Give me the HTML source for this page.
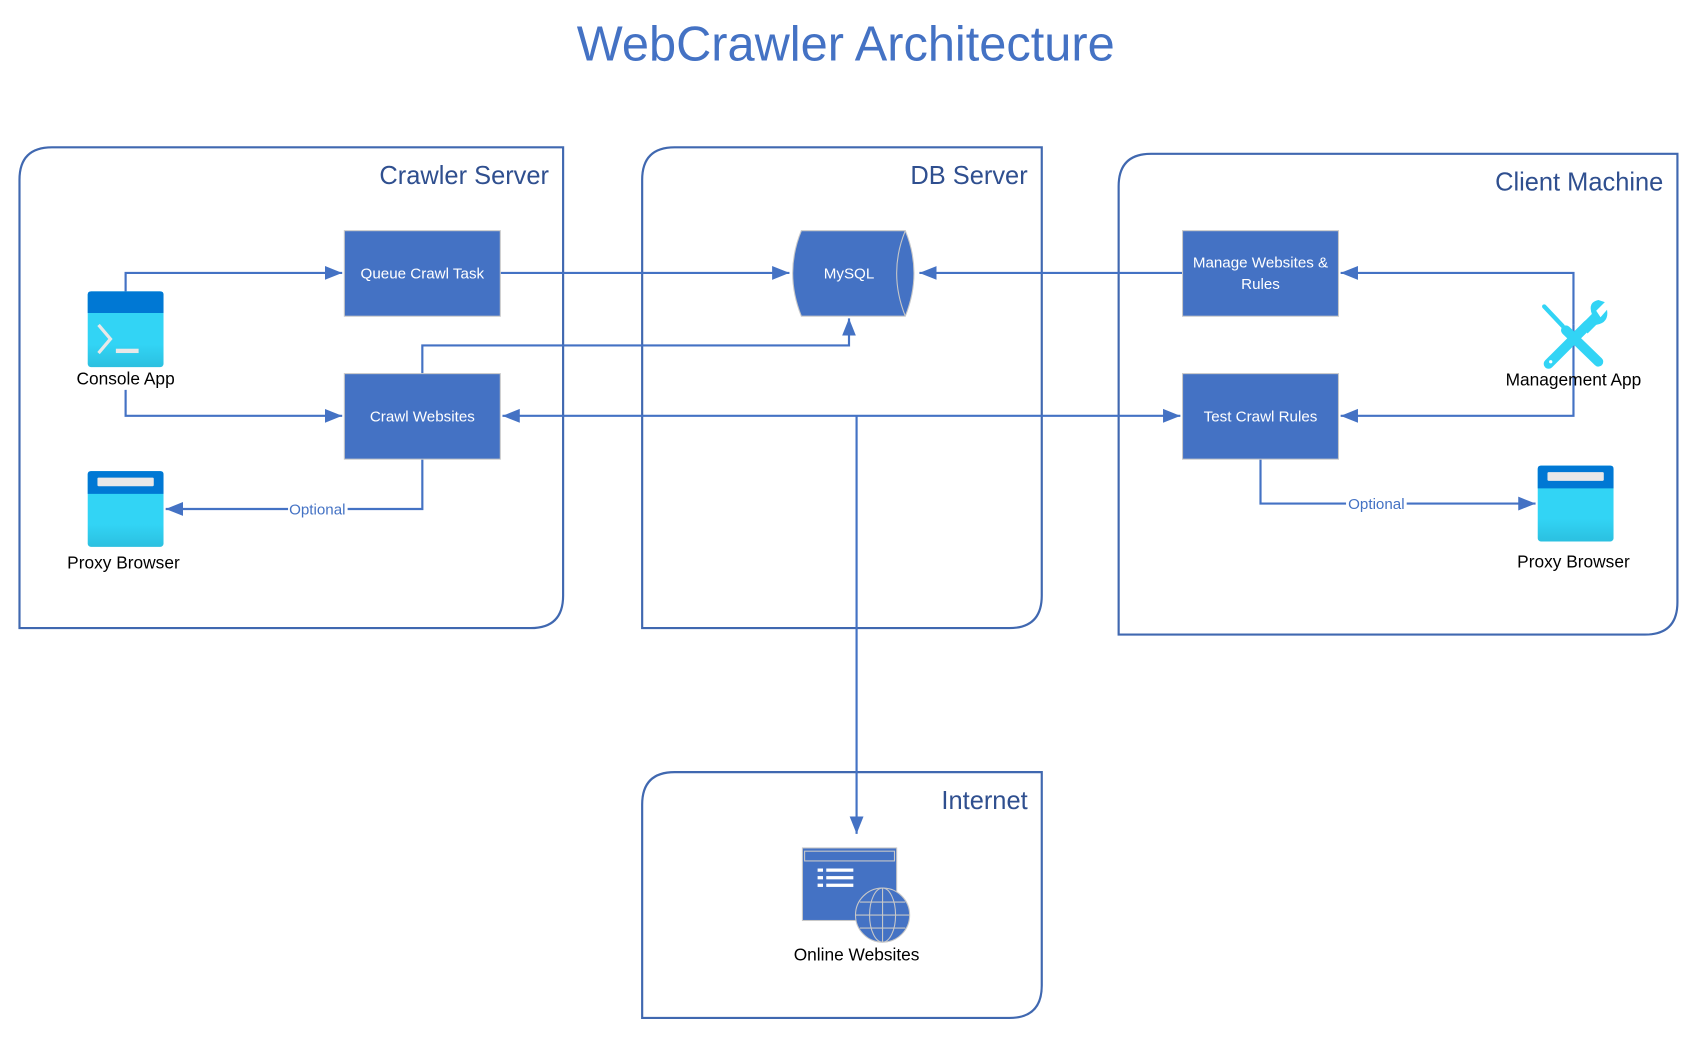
<!DOCTYPE html>
<html><head><meta charset="utf-8"><style>
html,body{margin:0;padding:0;background:#fff;}
svg{display:block;}
text{font-family:"Liberation Sans",sans-serif;}
</style></head><body>
<svg width="1698" height="1038" viewBox="0 0 1568 958.5" xmlns="http://www.w3.org/2000/svg">
<defs>
<marker id="b" viewBox="0 0 10 10" refX="10" refY="5" markerWidth="16" markerHeight="16" orient="auto-start-reverse" markerUnits="userSpaceOnUse">
<path d="M0,1 L10,5 L0,9 z" fill="#4472C4"/></marker>
<linearGradient id="g" x1="0" y1="0" x2="0" y2="1"><stop offset="0" stop-color="#32D4F5"/><stop offset="0.7" stop-color="#32D4F5"/><stop offset="1" stop-color="#2BC0E0"/></linearGradient>
</defs>
<text x="781" y="56" text-anchor="middle" font-size="45" fill="#4472C4">WebCrawler Architecture</text>

<g fill="none" stroke="#4068B0" stroke-width="2">
<path d="M18,580 V166 Q18,136 48,136 H520 V550 Q520,580 490,580 Z"/>
<path d="M593,580 V166 Q593,136 623,136 H962 V550 Q962,580 932,580 Z"/>
<path d="M1033,586 V172 Q1033,142 1063,142 H1549 V556 Q1549,586 1519,586 Z"/>
<path d="M593,940 V743 Q593,713 623,713 H962 V910 Q962,940 932,940 Z"/>
</g>
<g font-size="23.5" fill="#2F4F8F" text-anchor="end">
<text x="507" y="170">Crawler Server</text>
<text x="949" y="170">DB Server</text>
<text x="1536" y="176">Client Machine</text>
<text x="949" y="747">Internet</text>
</g>

<g fill="none" stroke="#4472C4" stroke-width="2">
<path d="M116,269 V252 H316" marker-end="url(#b)"/>
<path d="M462,252 H729" marker-end="url(#b)"/>
<path d="M1092,252 H849" marker-end="url(#b)"/>
<path d="M1453,300 V252 H1238" marker-end="url(#b)"/>
<path d="M1453,300 V384 H1238" marker-end="url(#b)"/>
<path d="M116,360 V384 H316" marker-end="url(#b)"/>
<path d="M390,345 V319 H784 V294" marker-end="url(#b)"/>
<path d="M464,384 H1090" marker-start="url(#b)" marker-end="url(#b)"/>
<path d="M791,384 V770" marker-end="url(#b)"/>
<path d="M390,424 V470 H153" marker-end="url(#b)"/>
<path d="M1164,424 V465 H1418" marker-end="url(#b)"/>
</g>
<rect x="266" y="462" width="55" height="16" fill="#fff"/>
<text x="293" y="475" text-anchor="middle" font-size="14" fill="#4472C4">Optional</text>
<rect x="1243" y="457" width="56" height="16" fill="#fff"/>
<text x="1271" y="470" text-anchor="middle" font-size="14" fill="#4472C4">Optional</text>

<g fill="#4472C4" stroke="#C8C8C8" stroke-width="1">
<rect x="318" y="213" width="144" height="79"/>
<rect x="318" y="345" width="144" height="79"/>
<rect x="1092" y="213" width="144" height="79"/>
<rect x="1092" y="345" width="144" height="79"/>
<path d="M740,213 H836 Q852,252 836,292 H740 Q724,252 740,213 Z"/>
</g>
<path d="M836,213 Q820,252 836,292" fill="none" stroke="#C8C8C8" stroke-width="1"/>
<g font-size="14" fill="#fff" text-anchor="middle">
<text x="390" y="257">Queue Crawl Task</text>
<text x="390" y="389">Crawl Websites</text>
<text x="1164" y="247">Manage Websites &amp;</text>
<text x="1164" y="267">Rules</text>
<text x="1164" y="389">Test Crawl Rules</text>
<text x="784" y="257">MySQL</text>
</g>

<rect x="81" y="269" width="70" height="70" rx="3" fill="url(#g)"/>
<path d="M81,272 Q81,269 84,269 H148 Q151,269 151,272 V289 H81 Z" fill="#0078D4"/>
<path d="M91,300 L102,313 L91,326" fill="none" stroke="#E8E8E8" stroke-width="3"/>
<rect x="107" y="322" width="21" height="4" fill="#E8E8E8"/>
<rect x="81" y="435" width="70" height="70" rx="3" fill="url(#g)"/>
<path d="M81,438 Q81,435 84,435 H148 Q151,435 151,438 V456 H81 Z" fill="#0078D4"/>
<rect x="90" y="441" width="52" height="8" rx="1" fill="#E8E8E8"/>
<rect x="1420" y="430" width="70" height="70" rx="3" fill="url(#g)"/>
<path d="M1420,433 Q1420,430 1423,430 H1487 Q1490,430 1490,433 V451 H1420 Z" fill="#0078D4"/>
<rect x="1429" y="436" width="52" height="8" rx="1" fill="#E8E8E8"/>

<g stroke="#32D4F5" stroke-linecap="round" fill="none">
<line x1="1426" y1="283" x2="1443" y2="301" stroke-width="4"/>
<line x1="1446" y1="305" x2="1476" y2="334" stroke-width="9"/>
<line x1="1430" y1="336" x2="1466" y2="300" stroke-width="9"/>
</g>
<path d="M1460,300 L1470,290 Q1466,279 1476,277 L1482,279 L1474,287 L1478,293 L1484,286 Q1486,298 1474,300 L1466,308 Z" fill="#32D4F5"/>
<circle cx="1432" cy="334" r="1.5" fill="#fff"/>
<text x="1453" y="356" text-anchor="middle" font-size="16" fill="#000">Management App</text>
<g font-size="16" fill="#000" text-anchor="middle">
<text x="116" y="355">Console App</text>
<text x="114" y="525">Proxy Browser</text>
<text x="1453" y="524">Proxy Browser</text>
<text x="791" y="887">Online Websites</text>
</g>
<rect x="741" y="783" width="87" height="67" fill="#4472C4" stroke="#C8C8C8" stroke-width="1"/>
<rect x="743" y="786" width="83" height="9" fill="none" stroke="#C8C8C8" stroke-width="1"/>
<g fill="#fff">
<rect x="755" y="802" width="5" height="3"/><rect x="763" y="802" width="25" height="3"/>
<rect x="755" y="809" width="5" height="3"/><rect x="763" y="809" width="25" height="3"/>
<rect x="755" y="816" width="5" height="3"/><rect x="763" y="816" width="25" height="3"/>
</g>
<circle cx="815" cy="845" r="25" stroke="#C8C8C8" stroke-width="1" fill="#4472C4"/>
<g stroke="#C8C8C8" stroke-width="1" fill="none">
<ellipse cx="815" cy="845" rx="12" ry="25"/>
<line x1="815" y1="820" x2="815" y2="870"/>
<line x1="790" y1="845" x2="840" y2="845"/>
<line x1="794" y1="833" x2="836" y2="833"/>
<line x1="794" y1="857" x2="836" y2="857"/>
</g>
</svg>
</body></html>
